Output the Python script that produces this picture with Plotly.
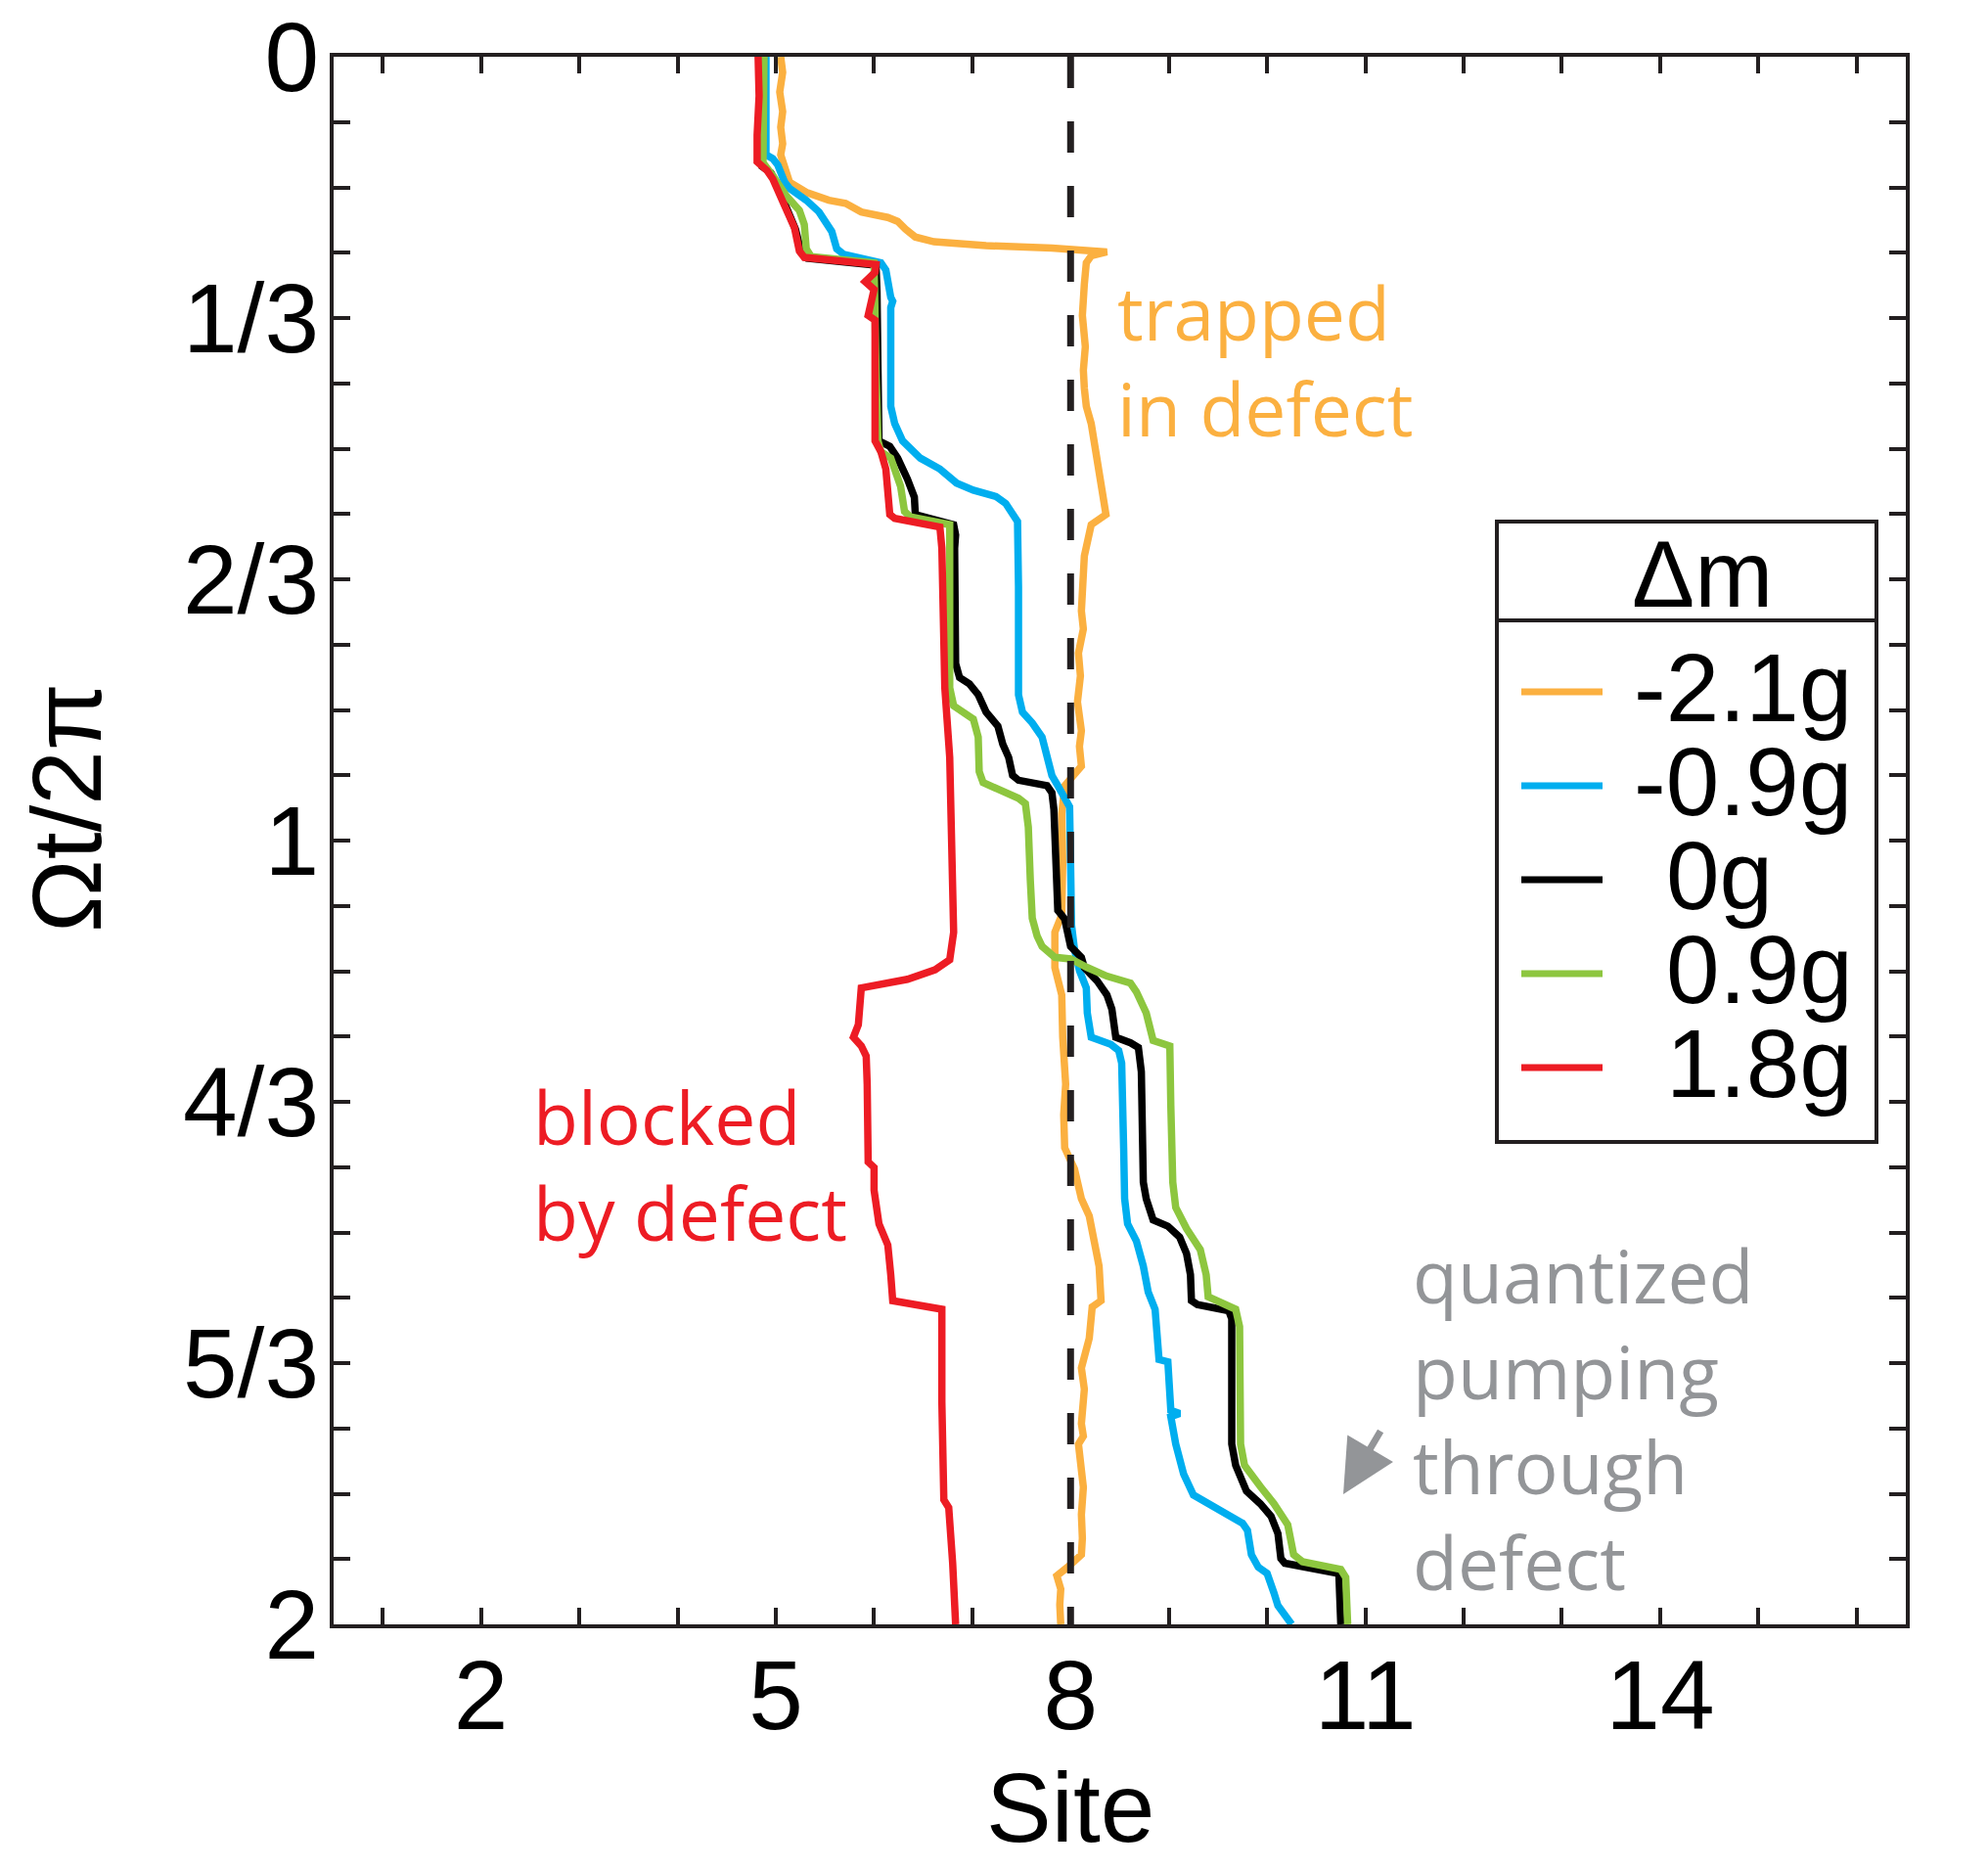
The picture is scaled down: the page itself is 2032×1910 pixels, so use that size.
import plotly.graph_objects as go

# ---------------- data ----------------
SERIES_NAMES = ["-2.1g", "-0.9g", "0g", "0.9g", "1.8g"]
SERIES_COLORS = ["#FBB040", "#00AEEF", "#000000", "#8DC63F", "#ED1C24"]

# Δm = -2.1g (orange)
site_m21 = [5.05, 5.07, 5.04, 5.07, 5.05, 5.07, 5.05, 5.08, 5.14, 5.31, 5.54, 5.71, 5.87, 6.14, 6.24, 6.32,
            6.42, 6.61, 7.14, 7.81, 8.37, 8.21, 8.16, 8.14, 8.12, 8.15, 8.13, 8.14, 8.16, 8.21, 8.27, 8.34,
            8.36, 8.21, 8.17, 8.14, 8.13, 8.11, 8.13, 8.08, 8.10, 8.07, 8.11, 8.09, 8.11, 8.00, 7.94, 7.91,
            7.92, 7.91, 7.84, 7.84, 7.91, 7.92, 7.95, 7.93, 7.94, 8.04, 8.11, 8.19, 8.24, 8.29, 8.31, 8.22,
            8.19, 8.11, 8.14, 8.11, 8.13, 8.08, 8.13, 8.11, 8.12, 8.11, 7.97, 7.86, 7.90, 7.89, 7.90]
time_m21 = [0.000, 0.020, 0.045, 0.070, 0.090, 0.111, 0.125, 0.135, 0.160, 0.173, 0.183, 0.187, 0.198, 0.205, 0.210, 0.220,
            0.230, 0.236, 0.241, 0.244, 0.249, 0.254, 0.263, 0.290, 0.330, 0.370, 0.400, 0.423, 0.446, 0.468, 0.512, 0.557,
            0.584, 0.597, 0.615, 0.637, 0.660, 0.707, 0.730, 0.761, 0.790, 0.823, 0.860, 0.880, 0.905, 0.923, 0.930, 0.966,
            1.030, 1.095, 1.117, 1.162, 1.197, 1.251, 1.311, 1.350, 1.392, 1.419, 1.457, 1.479, 1.511, 1.543, 1.587, 1.595,
            1.635, 1.673, 1.700, 1.744, 1.760, 1.770, 1.825, 1.860, 1.890, 1.911, 1.927, 1.938, 1.955, 1.975, 2.000]

# Δm = -0.9g (blue)
site_m09 = [4.90, 4.91, 4.90, 4.97, 5.02, 5.09, 5.14, 5.31, 5.44, 5.57, 5.62, 5.69, 6.07, 6.12, 6.14, 6.17,
            6.19, 6.17, 6.17, 6.21, 6.29, 6.47, 6.67, 6.84, 7.01, 7.24, 7.34, 7.41, 7.46, 7.47, 7.47, 7.51,
            7.61, 7.71, 7.76, 7.81, 7.87, 7.94, 7.99, 8.00, 8.01, 8.04, 8.09, 8.16, 8.17, 8.21, 8.41, 8.49,
            8.52, 8.54, 8.55, 8.58, 8.67, 8.74, 8.79, 8.86, 8.90, 8.99, 9.02, 9.11, 9.02, 9.07, 9.15, 9.25,
            9.40, 9.61, 9.75, 9.80, 9.84, 9.91, 10.00, 10.07, 10.11, 10.25]
time_m09 = [0.000, 0.080, 0.125, 0.130, 0.138, 0.160, 0.168, 0.183, 0.198, 0.223, 0.245, 0.252, 0.263, 0.272, 0.290, 0.307,
            0.312, 0.320, 0.446, 0.468, 0.490, 0.512, 0.526, 0.544, 0.553, 0.561, 0.570, 0.584, 0.593, 0.677, 0.814, 0.836,
            0.850, 0.868, 0.890, 0.917, 0.930, 0.948, 0.957, 1.028, 1.108, 1.139, 1.166, 1.188, 1.220, 1.251, 1.260, 1.268,
            1.284, 1.392, 1.457, 1.489, 1.511, 1.543, 1.576, 1.598, 1.662, 1.665, 1.727, 1.731, 1.735, 1.770, 1.808, 1.835,
            1.846, 1.860, 1.871, 1.880, 1.911, 1.927, 1.935, 1.960, 1.976, 2.000]

# Δm = 0g (black)
site_0 = [4.85, 4.86, 4.84, 4.86, 4.95, 5.00, 5.10, 5.20, 5.26, 5.32, 6.02, 6.03, 6.04, 6.05, 6.16, 6.24,
          6.34, 6.41, 6.42, 6.81, 6.83, 6.82, 6.83, 6.87, 6.97, 7.06, 7.14, 7.26, 7.31, 7.37, 7.41, 7.47,
          7.76, 7.81, 7.83, 7.84, 7.86, 7.87, 7.94, 8.00, 8.11, 8.14, 8.27, 8.37, 8.42, 8.46, 8.61, 8.69,
          8.72, 8.73, 8.74, 8.77, 8.84, 8.99, 9.11, 9.18, 9.22, 9.23, 9.29, 9.61, 9.64, 9.64, 9.68, 9.79,
          9.93, 10.04, 10.11, 10.14, 10.18, 10.73, 10.75]
time_0 = [0.000, 0.100, 0.125, 0.140, 0.148, 0.160, 0.190, 0.220, 0.250, 0.257, 0.266, 0.300, 0.400, 0.490, 0.497, 0.512,
          0.539, 0.562, 0.584, 0.597, 0.610, 0.627, 0.774, 0.792, 0.800, 0.814, 0.836, 0.854, 0.877, 0.894, 0.917, 0.923,
          0.930, 0.939, 0.960, 0.999, 1.050, 1.089, 1.100, 1.135, 1.149, 1.162, 1.179, 1.197, 1.215, 1.251, 1.258, 1.264,
          1.295, 1.338, 1.436, 1.457, 1.484, 1.492, 1.506, 1.527, 1.554, 1.587, 1.592, 1.600, 1.610, 1.770, 1.797, 1.830,
          1.846, 1.862, 1.884, 1.916, 1.922, 1.935, 2.000]

# Δm = 0.9g (green)
site_p09 = [4.88, 4.88, 4.87, 4.97, 5.11, 5.24, 5.29, 5.31, 5.36, 6.00, 6.01, 6.02, 6.04, 6.07, 6.17, 6.27,
            6.31, 6.37, 6.77, 6.77, 6.77, 6.81, 6.91, 7.01, 7.06, 7.07, 7.11, 7.47, 7.54, 7.57, 7.59, 7.61,
            7.66, 7.71, 7.84, 8.00, 8.17, 8.37, 8.61, 8.67, 8.77, 8.84, 9.01, 9.02, 9.02, 9.04, 9.07, 9.18,
            9.32, 9.38, 9.40, 9.68, 9.72, 9.73, 9.77, 9.93, 10.07, 10.21, 10.27, 10.36, 10.75, 10.80, 10.82]
time_p09 = [0.000, 0.100, 0.135, 0.152, 0.178, 0.196, 0.214, 0.245, 0.255, 0.263, 0.300, 0.400, 0.490, 0.504, 0.512, 0.548,
            0.580, 0.587, 0.597, 0.700, 0.805, 0.828, 0.836, 0.845, 0.868, 0.912, 0.926, 0.946, 0.953, 0.983, 1.050, 1.099,
            1.122, 1.135, 1.149, 1.151, 1.162, 1.173, 1.182, 1.193, 1.220, 1.255, 1.262, 1.295, 1.338, 1.436, 1.468, 1.495,
            1.522, 1.554, 1.582, 1.598, 1.620, 1.770, 1.797, 1.824, 1.846, 1.873, 1.911, 1.920, 1.930, 1.940, 2.000]

# Δm = 1.8g (red)
site_p18 = [4.82, 4.83, 4.81, 4.81, 4.91, 4.97, 5.09, 5.19, 5.24, 5.29, 6.02, 6.01, 5.91, 6.00, 5.94, 6.01,
            6.01, 6.07, 6.12, 6.16, 6.21, 6.67, 6.69, 6.72, 6.77, 6.80, 6.81, 6.77, 6.62, 6.34, 5.87, 5.84,
            5.79, 5.87, 5.92, 5.93, 5.94, 5.94, 6.00, 6.00, 6.05, 6.14, 6.17, 6.19, 6.69, 6.69, 6.71, 6.76,
            6.80, 6.83]
time_p18 = [0.000, 0.050, 0.100, 0.134, 0.145, 0.156, 0.190, 0.218, 0.248, 0.256, 0.265, 0.275, 0.287, 0.297, 0.330, 0.336,
            0.490, 0.504, 0.526, 0.584, 0.589, 0.600, 0.627, 0.805, 0.894, 1.072, 1.117, 1.152, 1.165, 1.177, 1.188, 1.235,
            1.251, 1.262, 1.275, 1.311, 1.381, 1.410, 1.417, 1.446, 1.489, 1.516, 1.554, 1.587, 1.598, 1.716, 1.841, 1.851,
            1.922, 2.000]

SERIES_SITES = [site_m21, site_m09, site_0, site_p09, site_p18]
SERIES_TIMES = [time_m21, time_m09, time_0, time_p09, time_p18]

DEFECT_SITE = 8
TIME_RANGE = [0, 2]
X_TICK_VALUES = list(range(1, 17))
X_TICK_LABELS = {2: "2", 5: "5", 8: "8", 11: "11", 14: "14"}
Y_TICK_VALUES = [k / 12 for k in range(25)]
Y_TICK_LABELS = {0: "0", 4: "1/3", 8: "2/3", 12: "1", 16: "4/3", 20: "5/3", 24: "2"}

# ---------------- figure ----------------
AX = "#231F20"
TICKFONT = "Liberation Sans, Arial, sans-serif"
NOTEFONT = "Open Sans, sans-serif"

PAGE_W, PAGE_H = 2032, 1910
BODY_MARGIN = 8                      # default page margin around the plot div
PLOT_L, PLOT_R, PLOT_T, PLOT_B = 341, 1948, 58, 1660   # plot frame in page pixels
W, H = PAGE_W - 2 * BODY_MARGIN, PAGE_H - 2 * BODY_MARGIN
L = PLOT_L - BODY_MARGIN
T = PLOT_T - BODY_MARGIN
R = W - (PLOT_R - BODY_MARGIN)
B = H - (PLOT_B - BODY_MARGIN)
PW, PH = PLOT_R - PLOT_L, PLOT_B - PLOT_T


def px(fx):
    return (fx - PLOT_L) / PW


def py(fy):
    return (PLOT_B - fy) / PH


fig = go.Figure()
for name, color, xs, ys in zip(SERIES_NAMES, SERIES_COLORS, SERIES_SITES, SERIES_TIMES):
    fig.add_trace(go.Scatter(x=xs, y=ys, mode="lines", name=name,
                             line=dict(color=color, width=7.5)))

fig.add_trace(go.Scatter(x=[DEFECT_SITE, DEFECT_SITE], y=TIME_RANGE, mode="lines",
                         line=dict(color=AX, width=7, dash="32px,34px"), showlegend=False))

fig.update_layout(
    template="none",
    width=W, height=H, autosize=False,
    margin=dict(l=L, r=R, t=T, b=B, pad=0),
    plot_bgcolor="white", paper_bgcolor="white",
    showlegend=False,
    font=dict(family=TICKFONT, color="black"),
)
fig.update_xaxes(
    automargin=False, ticklabeloverflow="allow",
    range=[0.5, 16.5], tickmode="array", tickvals=X_TICK_VALUES,
    ticktext=[X_TICK_LABELS.get(v, "") for v in X_TICK_VALUES],
    ticks="inside", ticklen=17, tickwidth=4, tickcolor=AX,
    showline=True, linecolor=AX, linewidth=4, mirror="ticks",
    showgrid=False, zeroline=False,
    tickfont=dict(size=100, family=TICKFONT, color="black"),
    ticklabelstandoff=-17,
)
fig.update_yaxes(
    automargin=False, ticklabeloverflow="allow",
    range=[TIME_RANGE[1], TIME_RANGE[0]], tickmode="array", tickvals=Y_TICK_VALUES,
    ticktext=[Y_TICK_LABELS.get(k, "") for k in range(25)],
    ticks="inside", ticklen=17, tickwidth=4, tickcolor=AX,
    showline=True, linecolor=AX, linewidth=4, mirror="ticks",
    showgrid=False, zeroline=False,
    tickfont=dict(size=100, family=TICKFONT, color="black"),
    ticklabelstandoff=-9,
)

ann = []
# axis titles
ann.append(dict(text="Site", xref="x", x=DEFECT_SITE, yref="paper", y=py(1847), showarrow=False,
                xanchor="center", yanchor="middle", font=dict(size=100, family=TICKFONT, color="black")))
ann.append(dict(text="Ωt/2π", xref="paper", x=px(68), yref="paper", y=py(826), showarrow=False,
                textangle=-90, xanchor="center", yanchor="middle",
                font=dict(size=100, family=TICKFONT, color="black")))
# notes
ann.append(dict(text="trapped<br>in defect", xref="paper", x=px(1140), yref="paper", y=py(266), showarrow=False,
                xanchor="left", yanchor="top", align="left", font=dict(size=75, family=NOTEFONT, color=SERIES_COLORS[0])))
ann.append(dict(text="blocked<br>by defect", xref="paper", x=px(543), yref="paper", y=py(1088), showarrow=False,
                xanchor="left", yanchor="top", align="left", font=dict(size=75, family=NOTEFONT, color=SERIES_COLORS[4])))
ann.append(dict(text="quantized<br>pumping<br>through<br>defect", xref="paper", x=px(1442), yref="paper", y=py(1250),
                showarrow=False, xanchor="left", yanchor="top", align="left",
                font=dict(size=75, family=NOTEFONT, color="#939598")))
ann.append(dict(text="", xref="paper", x=px(1373), yref="paper", y=py(1527), showarrow=True,
                ax=39, ay=-66, arrowcolor="#939598", arrowwidth=7, arrowhead=2, arrowsize=1.55, standoff=0))

# manual legend
shapes = []
bx0, bx1, by0, by1 = px(1530), px(1918), py(533), py(1167)
shapes.append(dict(type="rect", xref="paper", yref="paper", x0=bx0, x1=bx1, y0=by1, y1=by0,
                   line=dict(color=AX, width=4), fillcolor="white", layer="above"))
shapes.append(dict(type="line", xref="paper", yref="paper", x0=bx0, x1=bx1, y0=py(634), y1=py(634),
                   line=dict(color=AX, width=4), layer="above"))
ann.append(dict(text="Δm", xref="paper", x=px(1740), yref="paper", y=py(586), showarrow=False,
                xanchor="center", yanchor="middle", font=dict(size=96, family=TICKFONT, color="black")))
row0, step = 707, 96
for i, (name, color) in enumerate(zip(SERIES_NAMES, SERIES_COLORS)):
    fy = row0 + i * step
    shapes.append(dict(type="line", xref="paper", yref="paper", x0=px(1555), x1=px(1638), y0=py(fy), y1=py(fy),
                       line=dict(color=color, width=7), layer="above"))
    text_left = 1668 if name.startswith("-") else 1701
    ann.append(dict(text=name, xref="paper", x=px(text_left), yref="paper", y=py(fy - 4), showarrow=False,
                    xanchor="left", yanchor="middle", font=dict(size=98, family=TICKFONT, color="black")))

fig.update_layout(annotations=ann, shapes=shapes)
fig.write_html("out.html")
